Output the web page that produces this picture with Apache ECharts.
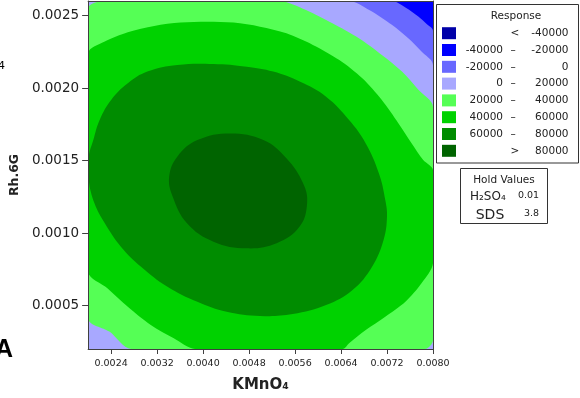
<!DOCTYPE html>
<html><head><meta charset="utf-8">
<script src="https://cdn.jsdelivr.net/npm/echarts@6/dist/echarts.min.js"></script>
<style>html,body{margin:0;padding:0;background:#fff}#c{width:580px;height:398px}</style>
</head><body><div id="c"></div>
<script>
// ---- axes ----
const xTicks = [0.0024, 0.0032, 0.0040, 0.0048, 0.0056, 0.0064, 0.0072, 0.0080];
const yTicks = [0.0005, 0.0010, 0.0015, 0.0020, 0.0025];
const xRange = [0.002, 0.008];
const yRange = [0.0002, 0.0026];

// ---- legend (Response bands) ----
const levelLow  = ['', '-40000', '-20000', '0', '20000', '40000', '60000', ''];
const levelMid  = ['<', '–', '–', '–', '–', '–', '–', '>'];
const levelHigh = ['-40000', '-20000', '0', '20000', '40000', '60000', '80000', '80000'];
const bandColors = ['#0000A8', '#0000FF', '#6868FF', '#A8A8FF', '#55FF55', '#00D200', '#008C00', '#006400'];

// ---- hold values ----
const holdNames = ['H₂SO₄', 'SDS'];
const holdValues = ['0.01', '3.8'];

// ---- contour regions (response above level), [KMnO4, Rh.6G] ----
const above_m40000 = [[0.002, 0.0002], [0.008, 0.0002], [0.008, 0.0026], [0.002, 0.0026]];
const above_m20000 = [[0.002, 0.0002], [0.002, 0.0026], [0.00729, 0.0026], [0.00752, 0.002556], [0.00775, 0.002492], [0.00789, 0.002441], [0.008, 0.002395], [0.008, 0.0002]];
const above_0 = [[0.002, 0.0002], [0.002, 0.0026], [0.00654, 0.0026], [0.00689, 0.002538], [0.00729, 0.002434], [0.00757, 0.002343], [0.0078, 0.002251], [0.008, 0.002159], [0.008, 0.0002]];
const above_20000 = [[0.002, 0.002549], [0.00226, 0.0026], [0.00533, 0.0026], [0.00579, 0.002538], [0.00625, 0.002446], [0.00671, 0.002343], [0.00711, 0.002228], [0.00746, 0.002113], [0.00775, 0.001986], [0.008, 0.001871], [0.008, 0.000262], [0.00786, 0.0002], [0.00275, 0.0002], [0.00237, 0.00032], [0.002, 0.000411]];
const above_40000 = [[0.002, 0.002239], [0.00229, 0.00232], [0.00269, 0.002384], [0.00315, 0.002428], [0.00361, 0.002451], [0.00407, 0.002457], [0.00453, 0.002451], [0.00499, 0.002423], [0.00545, 0.002377], [0.00591, 0.002297], [0.00637, 0.002193], [0.00677, 0.002067], [0.00711, 0.001917], [0.0074, 0.001756], [0.00763, 0.001618], [0.00783, 0.001503], [0.008, 0.001434], [0.008, 0.000791], [0.0078, 0.000653], [0.00752, 0.000526], [0.00717, 0.000423], [0.00683, 0.000331], [0.00654, 0.000239], [0.00643, 0.0002], [0.00386, 0.0002], [0.00349, 0.000274], [0.00309, 0.000366], [0.00269, 0.000492], [0.00234, 0.000618], [0.002, 0.000733]];
const above_60000 = [[0.00418, 0.002166], [0.00476, 0.002147], [0.00522, 0.002113], [0.00568, 0.002044], [0.00614, 0.00194], [0.00654, 0.001779], [0.00683, 0.001618], [0.00706, 0.001411], [0.00717, 0.001228], [0.0072, 0.001113], [0.00714, 0.000952], [0.00694, 0.000768], [0.0066, 0.000607], [0.00614, 0.000503], [0.00556, 0.000441], [0.00499, 0.000428], [0.00441, 0.000457], [0.0039, 0.000526], [0.00338, 0.00063], [0.00292, 0.000768], [0.00257, 0.000906], [0.00229, 0.001067], [0.00211, 0.001205], [0.00201, 0.001366], [0.00201, 0.001526], [0.00209, 0.001641], [0.0022, 0.001779], [0.0024, 0.001917], [0.00269, 0.002032], [0.00303, 0.002113], [0.00355, 0.002159]];
const above_80000 = [[0.00447, 0.001687], [0.00505, 0.001641], [0.00545, 0.001515], [0.00574, 0.001343], [0.00581, 0.001205], [0.00568, 0.001044], [0.00528, 0.000929], [0.00476, 0.000894], [0.00418, 0.00094], [0.00372, 0.001067], [0.00347, 0.001251], [0.00341, 0.001389], [0.00355, 0.001526], [0.0039, 0.001641]];

const contours = [above_m40000, above_m20000, above_0, above_20000, above_40000, above_60000, above_80000];
const contourColors = bandColors.slice(1);
const contourSmooth = [0, 0.3, 0.3, 0.3, 0.3, 0.4, 0.4];

const chart = echarts.init(document.getElementById('c'), null, {renderer: 'canvas'});
const FONT = 'DejaVu Sans';
const TXT = '#222';
const FRAME = '#404040';

const graphic = [];
// legend box
graphic.push({type: 'rect', shape: {x: 436.5, y: 4.5, width: 142, height: 158.5}, style: {fill: '#fff', stroke: '#333', lineWidth: 1}, z: 20});
graphic.push({type: 'text', x: 516, y: 16, style: {text: 'Response', font: '10.5px ' + FONT, fill: TXT, align: 'center', verticalAlign: 'middle'}, z: 21});
bandColors.forEach((c, i) => {
  const cy = 33.2 + i * 16.8;
  graphic.push({type: 'rect', shape: {x: 442, y: cy - 6, width: 14, height: 12}, style: {fill: c}, z: 21});
  if (levelLow[i]) graphic.push({type: 'text', x: 503, y: cy, style: {text: levelLow[i], font: '10.5px ' + FONT, fill: TXT, align: 'right', verticalAlign: 'middle'}, z: 21});
  graphic.push({type: 'text', x: levelMid[i] === '–' ? 513 : 515, y: cy, style: {text: levelMid[i], font: '10.5px ' + FONT, fill: TXT, align: 'center', verticalAlign: 'middle'}, z: 21});
  graphic.push({type: 'text', x: 568.5, y: cy, style: {text: levelHigh[i], font: '10.5px ' + FONT, fill: TXT, align: 'right', verticalAlign: 'middle'}, z: 21});
});
// hold values box
graphic.push({type: 'rect', shape: {x: 460.5, y: 168.5, width: 87, height: 55}, style: {fill: '#fff', stroke: '#333', lineWidth: 1}, z: 20});
graphic.push({type: 'text', x: 504, y: 180.5, style: {text: 'Hold Values', font: '10.5px ' + FONT, fill: TXT, align: 'center', verticalAlign: 'middle'}, z: 21});
graphic.push({type: 'text', x: 470, y: 197, style: {text: holdNames[0], font: '12px ' + FONT, fill: TXT, align: 'left', verticalAlign: 'middle'}, z: 21});
graphic.push({type: 'text', x: 518, y: 196, style: {text: holdValues[0], font: '9.5px ' + FONT, fill: TXT, align: 'left', verticalAlign: 'middle'}, z: 21});
graphic.push({type: 'text', x: 490, y: 215, style: {text: holdNames[1], font: '14px ' + FONT, fill: TXT, align: 'center', verticalAlign: 'middle'}, z: 21});
graphic.push({type: 'text', x: 524, y: 214, style: {text: holdValues[1], font: '9.5px ' + FONT, fill: TXT, align: 'left', verticalAlign: 'middle'}, z: 21});
// cut-off fragments at the left edge
graphic.push({type: 'text', x: -5, y: 350, style: {text: 'A', font: 'bold 25px "Liberation Sans"', fill: '#000', align: 'left', verticalAlign: 'middle'}, z: 21});
graphic.push({type: 'text', x: -2, y: 66, style: {text: '4', font: '11px ' + FONT, fill: '#000', align: 'left', verticalAlign: 'middle'}, z: 21});

const fmt = v => v.toFixed(4);

chart.setOption({
  animation: false,
  backgroundColor: '#fff',
  grid: {left: 85, top: 1, width: 348, height: 348, show: false},
  xAxis: [{
    type: 'value', min: xRange[0], max: xRange[1], position: 'bottom', z: 10,
    axisLine: {show: true, lineStyle: {color: FRAME, width: 1}},
    axisTick: {show: true, customValues: xTicks, length: 5, lineStyle: {color: FRAME}},
    axisLabel: {customValues: xTicks, formatter: fmt, fontFamily: FONT, fontSize: 9.5, color: TXT, margin: 10},
    splitLine: {show: false},
    name: 'KMnO₄', nameLocation: 'middle', nameGap: 29,
    nameTextStyle: {fontFamily: FONT, fontWeight: 'bold', fontSize: 15, color: TXT}
  }, {
    type: 'value', min: xRange[0], max: xRange[1], position: 'top', z: 10,
    axisLine: {show: true, onZero: false, lineStyle: {color: FRAME, width: 1}},
    axisTick: {show: false}, axisLabel: {show: false}, splitLine: {show: false}
  }],
  yAxis: [{
    type: 'value', min: yRange[0], max: yRange[1], position: 'left', z: 10,
    axisLine: {show: true, onZero: false, lineStyle: {color: FRAME, width: 1}},
    axisTick: {show: true, customValues: yTicks, length: 6, lineStyle: {color: FRAME}},
    axisLabel: {customValues: yTicks, formatter: fmt, fontFamily: FONT, fontSize: 13.5, color: TXT, margin: 9},
    splitLine: {show: false},
    name: 'Rh.6G', nameLocation: 'middle', nameGap: 58,
    nameTextStyle: {fontFamily: FONT, fontWeight: 'bold', fontSize: 12.5, color: TXT}
  }, {
    type: 'value', min: yRange[0], max: yRange[1], position: 'right', z: 10,
    axisLine: {show: true, onZero: false, lineStyle: {color: FRAME, width: 1}},
    axisTick: {show: false}, axisLabel: {show: false}, splitLine: {show: false}
  }],
  series: [{
    type: 'custom',
    xAxisIndex: 0, yAxisIndex: 0, z: 2, silent: true,
    data: contours.map((c, i) => [i]),
    renderItem: function (params, api) {
      const i = params.dataIndex;
      const pts = contours[i].map(p => api.coord(p));
      const cs = params.coordSys;
      return {
        type: 'group',
        clipPath: {type: 'rect', shape: {x: cs.x, y: cs.y, width: cs.width, height: cs.height}},
        children: [{
          type: 'polygon',
          shape: {
            points: pts,
            smooth: contourSmooth[i],
            smoothConstraint: [[cs.x, cs.y], [cs.x + cs.width, cs.y + cs.height]]
          },
          style: {fill: contourColors[i], stroke: null}
        }]
      };
    }
  }],
  graphic: graphic
});
</script></body></html>
